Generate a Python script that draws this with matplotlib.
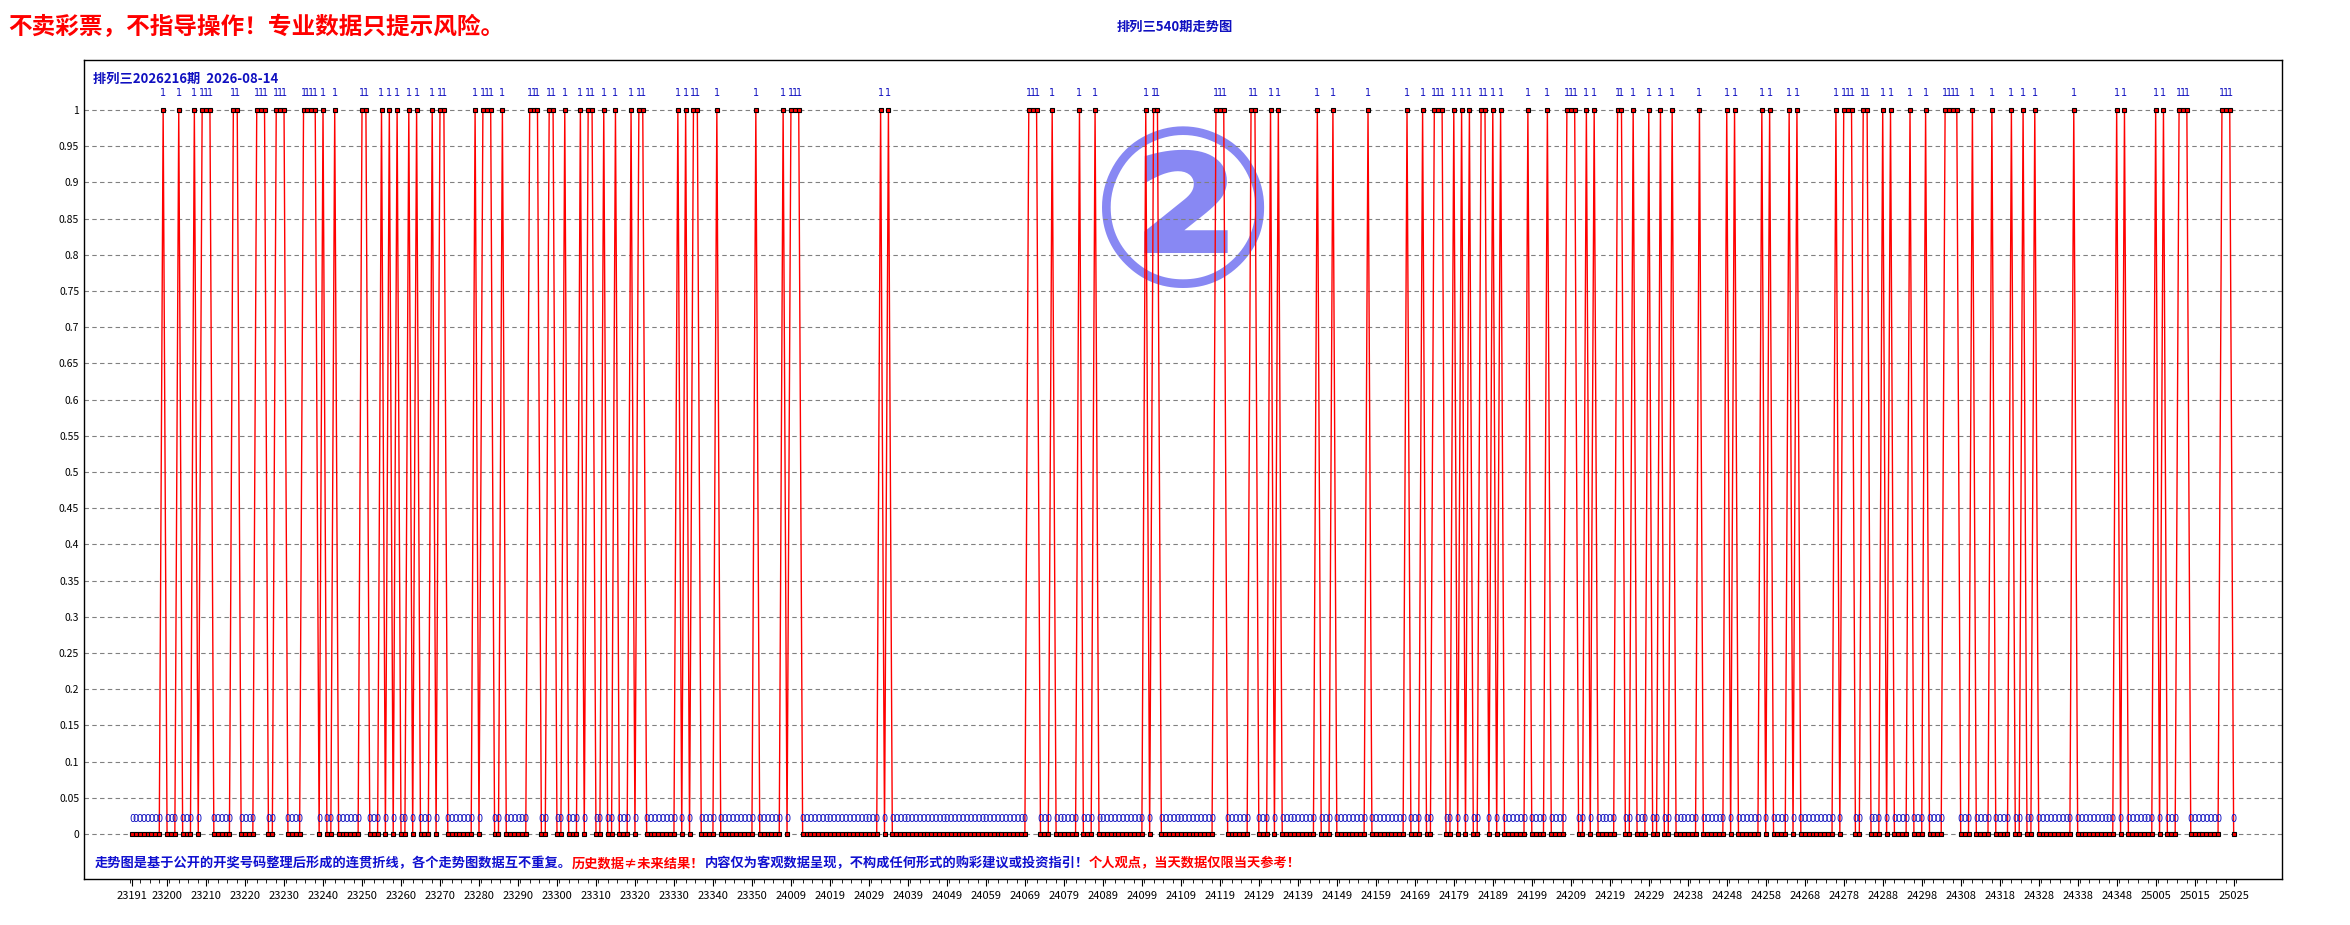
import numpy as np
import matplotlib.pyplot as plt
from matplotlib.ticker import FixedLocator

plt.rcParams['font.family'] = ['Noto Sans CJK SC', 'DejaVu Sans']

# ============================================================
# DATA (0/1 per period, 10 per chunk)
# ============================================================
chunks = [
    "0000000010", "0010001011", "1000001100", "0011100111", "0000111101",
    "0010000001", "1000101010", "0101000101", "1000000010", "1110010000",
    "0011100110", "0100010110", "0100100010", "1100000000", "1010110000",
    "1000000000", "1000000101", "1100000000", "0000000000", "0010100000",
    "0000000000", "0000000000", "0000000000", "1110001000", "0001000100",
    "0000000000", "1011000000", "0000000011", "1000000110", "0010100000",
    "0000100010", "0000000100", "0000000100", "0100111001", "0101001101",
    "0100000010", "0001000011", "1001010000", "0110010001", "0010010000",
    "0010000001", "0100000010", "1000010100", "0000000101", "1100110001",
    "0100001000", "1000011110", "0010000100", "0010010010", "0000000010",
    "0000000001", "0100000001", "0100011100", "0000001110",
]
values = np.array([int(c) for c in "".join(chunks)])

tick_labels = [
    "23191", "23200", "23210", "23220", "23230", "23240", "23250", "23260",
    "23270", "23280", "23290", "23300", "23310", "23320", "23330", "23340",
    "23350", "24009", "24019", "24029", "24039", "24049", "24059", "24069",
    "24079", "24089", "24099", "24109", "24119", "24129", "24139", "24149",
    "24159", "24169", "24179", "24189", "24199", "24209", "24219", "24229",
    "24238", "24248", "24258", "24268", "24278", "24288", "24298", "24308",
    "24318", "24328", "24338", "24348", "25005", "25015", "25025",
]

x = np.arange(len(values))
tick_pos = [0] + [9 + 10 * k for k in range(len(tick_labels) - 1)]

# ============================================================
# FIGURE
# ============================================================
fig = plt.figure(figsize=(23.5, 9.25), dpi=100)
ax = fig.add_axes([84 / 2350, 1 - 879 / 925, (2282 - 84) / 2350, (879 - 60) / 925])

ax.plot(x, values, color='red', lw=1.0, zorder=2)
ax.plot(x, values, ls='none', marker='s', ms=3.2, mfc='red', mec='black',
        mew=0.8, zorder=3)

for xi, v in zip(x, values):
    if v == 0:
        ax.text(xi, 0.021, "0", color='#1010c0', fontsize=7, ha='center',
                va='center', family='DejaVu Sans', zorder=4)
    else:
        ax.text(xi, 1.024, "1", color='#1010c0', fontsize=7, ha='center',
                va='center', family='DejaVu Sans', zorder=4)

ax.set_xlim(-12.3, 551.4)
ax.set_ylim(-0.062, 1.069)

yt = np.round(np.arange(0, 1.0001, 0.05), 2)
ax.set_yticks(yt)
ax.set_yticklabels(['%g' % t for t in yt], fontsize=7.5)
for t in yt:
    ax.axhline(t, color='gray', lw=0.8, ls=(0, (4, 3)), zorder=1)

ax.set_xticks(tick_pos)
ax.set_xticklabels(tick_labels, fontsize=8)
ax.xaxis.set_minor_locator(FixedLocator(np.arange(-0.5, 540, 2.5)))
ax.tick_params(axis='x', which='major', length=5)
ax.tick_params(axis='x', which='minor', length=3)
ax.tick_params(axis='y', length=0)
for s in ax.spines.values():
    s.set_linewidth(1.0)

# watermark
ax.text(0.5, 0.80, "②", transform=ax.transAxes, fontsize=160, color='#6060f0',
        alpha=0.75, ha='center', va='center', family='DejaVu Sans',
        fontweight='bold', zorder=0)

# header text inside the axes
ax.text(0.004, 0.985, "排列三2026216期  2026-08-14", transform=ax.transAxes,
        fontsize=9.5, fontweight='bold', color='#1010c0', va='top', ha='left')

# disclaimer line
parts = [
    ("走势图是基于公开的开奖号码整理后形成的连贯折线，各个走势图数据互不重复。", '#1010d0'),
    ("历史数据≠未来结果！", 'red'),
    ("内容仅为客观数据呈现，不构成任何形式的购彩建议或投资指引！", '#1010d0'),
    ("个人观点，当天数据仅限当天参考！", 'red'),
]
prev = ax.text(0.005, 0.019, parts[0][0], transform=ax.transAxes, fontsize=9.5,
               fontweight='bold', color=parts[0][1], ha='left', va='center')
for txt, col in parts[1:]:
    prev = ax.annotate(txt, xy=(1, 0.5), xycoords=prev, fontsize=9.5,
                       fontweight='bold', color=col, ha='left', va='center')

# figure titles
fig.text(8 / 2350, 1 - 27 / 925, "不卖彩票，不指导操作！专业数据只提示风险。",
         fontsize=17, fontweight='bold', color='red', ha='left', va='center')
fig.text(1175 / 2350, 1 - 27 / 925, "排列三540期走势图", fontsize=9.5,
         fontweight='bold', color='#1010c0', ha='center', va='center')

fig.savefig('out.png', dpi=100)
